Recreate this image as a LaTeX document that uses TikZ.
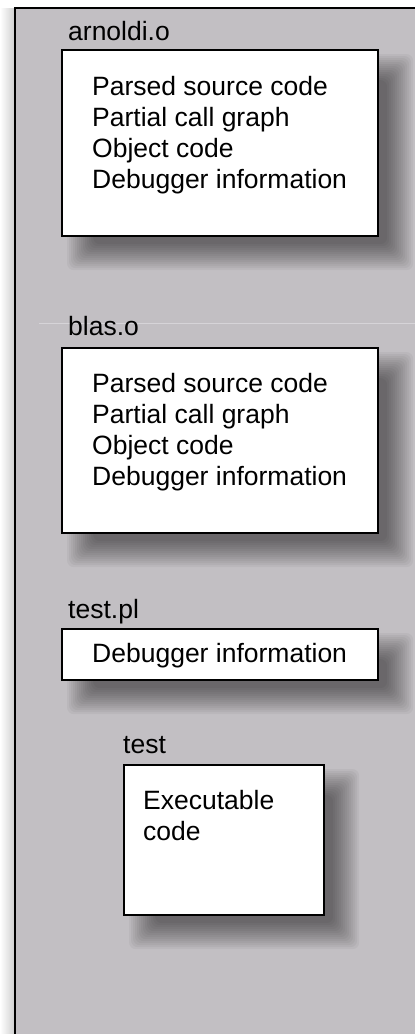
\documentclass[tikz,border=0pt]{standalone}
\usepackage{fontspec}
\setmainfont{Liberation Sans}
\usepackage{tikz}
\usetikzlibrary{positioning,backgrounds}
\definecolor{panelgray}{RGB}{194,191,195}
\definecolor{seamgray}{RGB}{214,212,216}

\tikzset{
  filebox/.style={rectangle,draw=black,line width=2.2pt,fill=white,inner sep=0pt,anchor=north west},
  filename/.style={anchor=base west,inner sep=0pt,font=\fontsize{26.5}{31}\selectfont},
  contents/.style={anchor=north west,inner sep=0pt,align=left,font=\fontsize{26.5}{31}\selectfont}
}
% soft drop shadow behind a named box
\newcommand\castshadow[1]{%
  \foreach \r in {-12,-10,...,14}
    \fill[black,opacity=0.04,rounded corners=7pt]
      ([shift={(20-\r,19-\r)}]#1.north west) rectangle ([shift={(20+\r,19+\r)}]#1.south east);}

\begin{document}
\begin{tikzpicture}[x=1pt,y=-1pt]
  \useasboundingbox (0,0) rectangle (415,1034);

  % arnoldi.o
  \node[filebox,minimum width=316pt,minimum height=186pt] (arnoldiBox) at (61,49) {};
  \node[filename] (arnoldiName) at (68,40) {arnoldi.o};
  \node[contents] (arnoldiText) at (92,76) {Parsed source code\\Partial call graph\\Object code\\Debugger information};

  % blas.o
  \node[filebox,minimum width=316pt,minimum height=185pt] (blasBox) at (61,347) {};
  \node[filename] (blasName) at (68,335) {blas.o};
  \node[contents] (blasText) at (92,373) {Parsed source code\\Partial call graph\\Object code\\Debugger information};

  % test.pl
  \node[filebox,minimum width=316pt,minimum height=51pt] (testplBox) at (61,628) {};
  \node[filename] (testplName) at (68,618) {test.pl};
  \node[contents] (testplText) at (92,643) {Debugger information};

  % test
  \node[filebox,minimum width=200pt,minimum height=150pt] (testBox) at (123,764) {};
  \node[filename] (testName) at (123,753) {test};
  \node[contents] (testText) at (143,790) {Executable\\code};

  \begin{scope}[on background layer]
    % panel
    \shade[left color=white,right color=black!18] (0,8) rectangle (14,1034);
    \fill[panelgray] (15,8) rectangle (415,1034);
    \draw[line width=2.4pt] (415,8) -- (15,8) -- (15,1034);
    \draw[seamgray,line width=0.8pt] (39,323) -- (415,323);
    % shadows
    \castshadow{arnoldiBox}
    \castshadow{blasBox}
    \castshadow{testplBox}
    \castshadow{testBox}
  \end{scope}
\end{tikzpicture}
\end{document}
